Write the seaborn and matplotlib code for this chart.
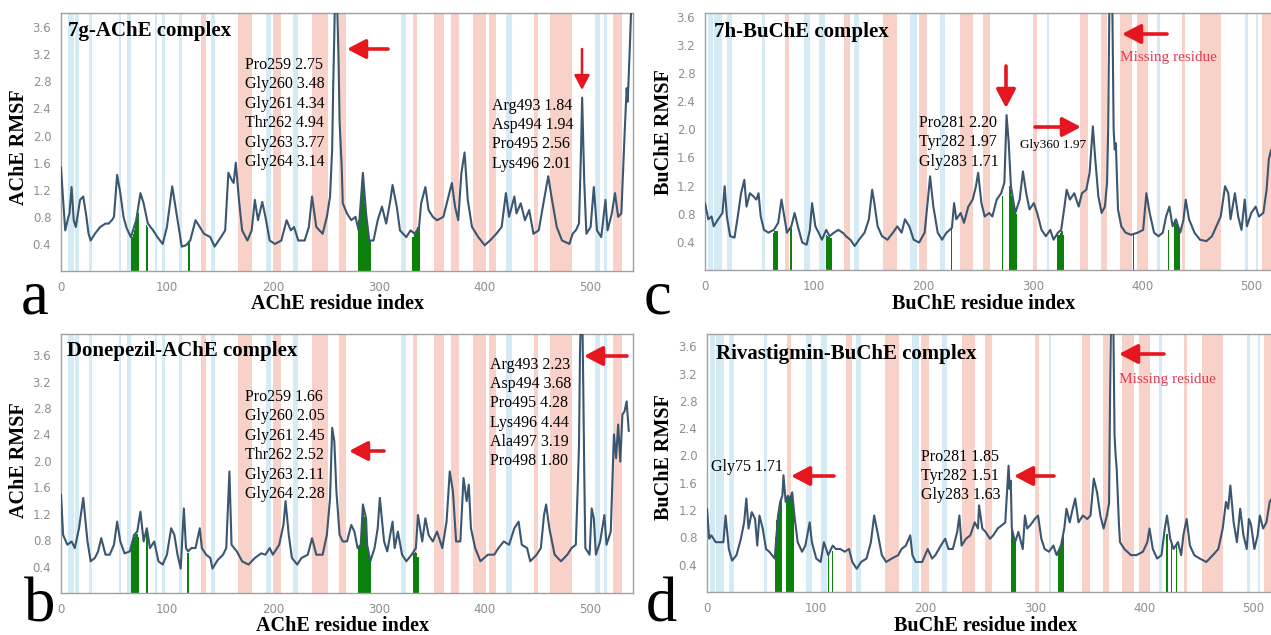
import matplotlib
matplotlib.use("Agg")
import matplotlib.pyplot as plt
import numpy as np
import pandas as pd
import seaborn as sns

W, H = 1271, 635
sns.set_theme(style="white")
plt.rcParams["font.family"] = ["DejaVu Sans"]
SERIF = ["Liberation Serif", "DejaVu Serif"]

# ---------------- data ----------------
# (residue index, RMSF) pairs
rmsf_7g_ache = [(0,1.53),(2,1.05),(4,0.6),(7,0.8),(8,0.85),(10,1.24),(12,0.75),(14,0.65),(16,0.85),(18,1.05),
    (21,1.1),(24,0.8),(26,0.55),(28,0.45),(32,0.55),(37,0.65),(42,0.7),(45,0.7),(48,0.75),(50,0.8),
    (53,1.42),(56,1.15),(59,0.8),(62,0.63),(66,0.5),(71,0.75),(75,1.15),(78,1.0),(82,0.7),(87,0.6),
    (91,0.5),(96,0.4),(100,0.65),(105,1.25),(109,0.85),(112,0.55),(114,0.36),(118,0.38),(122,0.45),(127,0.75),
    (131,0.65),(135,0.55),(141,0.5),(145,0.36),(151,0.5),(155,0.6),(158,1.45),(161,1.35),(163,1.3),(165,1.6),
    (168,1.05),(171,0.6),(176,0.45),(180,0.6),(183,1.05),(186,0.75),(190,1.02),(193,0.8),(197,0.45),(202,0.4),
    (208,0.45),(213,0.75),(217,0.6),(220,0.65),(224,0.45),(230,0.45),(234,0.65),(237,1.1),(241,0.65),(247,0.55),
    (251,0.8),(254,1.1),(256,1.8),(257,2.75),(258,3.48),(259,4.34),(260,4.94),(261,3.77),(262,3.14),(263,2.2),
    (265,1.54),(266,1.0),(270,0.85),(274,0.75),(278,0.8),(281,0.6),(285,1.45),(288,0.85),(291,0.45),(295,0.45),
    (299,0.75),(303,0.95),(307,0.7),(311,1.05),(313,1.27),(317,0.95),(320,0.6),(326,0.5),(330,0.6),(334,0.55),
    (338,0.65),(340,1.0),(344,1.24),(347,0.9),(351,0.8),(355,0.75),(361,0.8),(365,1.05),(369,1.3),(372,0.95),
    (375,0.75),(378,1.45),(381,1.75),(384,1.05),(388,0.65),(394,0.5),(400,0.38),(405,0.45),(411,0.55),(416,0.65),
    (420,1.15),(423,0.8),(428,1.1),(430,0.85),(434,1.0),(438,0.75),(442,0.9),(446,0.55),(451,0.6),(456,1.05),
    (460,1.4),(463,1.1),(468,0.65),(473,0.45),(480,0.4),(483,0.55),(486,0.6),(489,0.7),(490,1.24),(491,1.84),
    (492,2.56),(493,1.94),(494,1.3),(496,0.55),(500,0.65),(503,1.24),(506,0.6),(510,0.5),(514,1.05),(516,0.6),
    (520,0.85),(523,1.15),(526,0.8),(529,0.85),(532,2.0),(534,2.7),(535,2.5),(537,3.3),(539,4.2)]

rmsf_donepezil_ache = [(0,1.49),(2,0.88),(6,0.73),(10,0.78),(13,0.68),(17,0.98),(21,1.44),(25,0.78),(28,0.48),(32,0.53),
    (35,0.63),(38,0.83),(42,0.58),(46,0.58),(50,0.73),(53,1.08),(56,0.78),(60,0.6),(65,0.63),(69,0.88),
    (72,0.93),(75,1.23),(78,0.78),(81,0.98),(84,0.68),(88,0.78),(92,0.48),(96,0.43),(100,0.58),(104,0.98),
    (107,0.88),(110,0.58),(113,0.37),(116,1.28),(118,0.68),(120,0.63),(123,0.68),(127,0.68),(131,0.98),(133,0.68),
    (137,0.58),(141,0.53),(143,0.37),(148,0.5),(153,0.58),(156,0.68),(159,1.84),(161,0.73),(166,0.63),(171,0.48),
    (177,0.43),(183,0.53),(189,0.6),(193,0.58),(197,0.68),(200,0.58),(206,0.73),(210,1.03),(212,1.39),(215,0.88),
    (218,0.53),(223,0.43),(227,0.53),(233,0.58),(237,0.83),(241,0.58),(247,0.58),(251,0.88),(254,1.44),(256,2.5),
    (258,2.3),(260,1.54),(263,0.88),(266,0.78),(270,0.78),(274,1.03),(277,0.93),(280,0.68),(283,0.73),(285,1.34),
    (288,1.13),(289,0.73),(292,0.48),(296,0.68),(299,0.98),(301,1.44),(305,0.78),(308,0.63),(313,1.08),(315,0.68),
    (318,0.93),(322,0.58),(326,0.48),(331,0.58),(335,0.68),(337,1.18),(341,0.78),(344,1.13),(347,0.88),(351,0.78),
    (355,0.93),(360,0.68),(364,1.08),(367,1.84),(370,1.54),(373,0.78),(377,0.78),(380,1.74),(383,1.39),(385,1.64),
    (387,0.98),(391,0.68),(396,0.48),(403,0.58),(409,0.58),(413,0.68),(418,0.78),(423,0.73),(428,0.98),(432,1.08),
    (435,0.73),(440,0.68),(443,0.48),(449,0.58),(453,0.68),(456,1.18),(458,1.34),(461,0.98),(466,0.58),(472,0.48),
    (478,0.58),(482,0.68),(486,0.73),(488,1.69),(489,2.23),(490,3.68),(491,4.28),(492,4.44),(493,3.19),(494,1.8),
    (495,0.68),(499,0.58),(501,1.28),(503,1.13),(505,0.58),(509,0.78),(513,1.18),(515,0.73),(519,0.93),(522,2.4),
    (524,2.04),(526,2.55),(528,1.99),(530,2.7),(532,2.75),(534,2.9),(536,2.45)]

rmsf_7h_buche = [(0,0.95),(3,0.72),(6,0.76),(8,0.62),(12,0.72),(16,0.81),(18,1.19),(20,0.76),(23,0.48),(27,0.46),
    (30,0.76),(33,1.09),(36,1.28),(38,0.9),(41,1.09),(44,1.05),(47,1.0),(49,1.09),(51,0.76),(54,0.57),
    (58,0.53),(63,0.57),(67,0.67),(70,1.0),(73,0.72),(75,0.53),(79,0.62),(82,0.81),(85,0.62),(89,0.39),
    (93,0.36),(96,0.57),(98,0.95),(101,0.62),(104,0.53),(107,0.43),(111,0.57),(114,0.48),(118,0.53),(122,0.57),
    (126,0.53),(129,0.48),(133,0.43),(137,0.34),(141,0.43),(146,0.53),(150,0.72),(153,1.14),(155,0.95),(158,0.62),
    (162,0.48),(167,0.43),(172,0.53),(176,0.62),(180,0.53),(183,0.72),(187,0.62),(191,0.43),(196,0.39),(201,0.53),
    (204,1.0),(206,1.33),(209,0.9),(213,0.53),(217,0.43),(221,0.53),(224,0.57),(226,0.6),(228,0.95),(230,0.72),
    (234,0.81),(237,0.67),(241,0.9),(245,1.0),(248,1.19),(250,1.38),(253,0.95),(256,0.76),(260,0.81),(263,0.76),
    (267,1.0),(271,1.09),(274,1.24),(276,2.2),(278,1.8),(280,1.19),(284,0.81),(288,1.0),(291,1.4),(294,1.09),
    (297,0.86),(301,0.95),(304,0.81),(308,0.57),(312,0.48),(316,0.57),(319,0.43),(323,0.53),(326,0.57),(329,0.9),
    (331,1.14),(334,1.0),(338,1.09),(342,0.9),(345,1.09),(349,1.14),(352,1.38),(355,2.04),(357,1.61),(360,1.05),
    (363,0.81),(366,0.9),(368,1.24),(369,2.0),(370,3.6),(371,4.4),(372,4.6),(373,3.5),(374,2.0),(375,1.71),
    (376,1.8),(378,0.86),(381,0.62),(385,0.53),(390,0.5),(396,0.53),(401,0.57),(404,1.09),(407,0.81),(411,0.53),
    (415,0.48),(419,0.53),(422,0.76),(425,0.9),(428,0.62),(431,0.72),(435,0.53),(438,0.72),(440,1.0),(443,0.72),
    (448,0.53),(453,0.43),(459,0.41),(464,0.48),(468,0.62),(472,0.76),(476,1.19),(479,1.09),(481,0.72),(485,1.09),
    (488,0.76),(491,0.57),(494,1.0),(496,0.62),(500,0.81),(504,0.9),(507,0.76),(511,0.81),(514,1.14),(516,1.57),
    (518,1.7)]

rmsf_rivastigmin_buche = [(0,1.22),(2,0.78),(4,0.83),(8,0.73),(12,0.73),(15,0.73),(17,1.12),(20,0.63),(23,0.46),(27,0.54),
    (31,0.78),(34,1.02),(36,1.37),(38,0.93),(41,1.17),(44,1.07),(46,0.68),(48,1.12),(51,0.93),(54,0.63),
    (57,0.59),(62,0.49),(65,1.12),(67,1.32),(69,1.41),(70,1.71),(72,1.32),(74,1.41),(76,1.37),(78,1.46),
    (80,1.12),(83,0.73),(87,0.59),(90,0.68),(94,1.02),(96,0.73),(100,0.49),(104,0.44),(107,0.73),(111,0.54),
    (115,0.68),(118,0.63),(122,0.63),(126,0.59),(130,0.63),(133,0.44),(137,0.34),(141,0.44),(146,0.49),(150,0.73),
    (153,1.12),(156,0.88),(160,0.54),(164,0.44),(169,0.49),(175,0.54),(178,0.63),(182,0.68),(186,0.83),(188,0.54),
    (191,0.44),(197,0.44),(202,0.63),(206,0.49),(209,0.54),(214,0.68),(218,0.78),(221,0.63),(225,0.63),(229,0.88),
    (231,1.12),(233,0.68),(237,0.78),(241,0.83),(245,1.02),(248,0.93),(249,1.27),(252,0.93),(255,0.88),(259,0.78),
    (262,0.83),(266,0.93),(270,0.98),(273,1.02),(276,1.85),(277,1.51),(278,1.63),(279,0.93),(282,0.73),(285,0.88),
    (289,0.63),(291,1.12),(293,0.93),(296,0.98),(300,1.07),(303,1.12),(306,0.78),(309,0.63),(313,0.59),(317,0.68),
    (320,0.54),(324,0.68),(327,0.93),(329,1.22),(332,1.02),(334,1.17),(337,1.37),(340,1.02),(344,1.12),(348,1.07),
    (351,1.12),(354,1.66),(357,1.46),(360,1.12),(363,0.93),(366,1.12),(368,1.3),(369,3.0),(370,4.2),(371,4.5),
    (372,3.8),(373,2.3),(374,2.0),(375,1.8),(377,1.0),(378,0.73),(382,0.63),(388,0.54),(393,0.54),(399,0.59),
    (403,0.73),(405,0.93),(408,0.63),(412,0.49),(416,0.54),(419,0.93),(421,1.12),(424,0.78),(427,0.63),(431,0.73),
    (434,0.54),(436,0.83),(439,1.07),(442,0.68),(446,0.54),(451,0.49),(457,0.44),(463,0.54),(468,0.63),(472,0.93),
    (475,1.32),(477,1.22),(479,1.56),(482,1.02),(485,0.73),(488,1.22),(491,0.83),(494,0.63),(496,1.07),(498,0.98),
    (501,0.63),(504,0.83),(506,1.12),(509,0.93),(512,1.02),(515,1.32),(518,1.4)]

# ligand-contact residues (green), (residue, height)
contacts_7g = [(67,0.5),(68,0.55),(69,0.6),(70,0.68),(71,0.75),(72,0.8),(73,0.85),(81,0.68),(82,0.65),(120,0.45),(121,0.42),
    (281,0.75),(282,0.7),(283,0.85),(284,1.2),(285,1.45),(286,1.3),(287,1.0),(288,0.85),(289,0.65),(290,0.5),(291,0.45),(292,0.45),
    (332,0.5),(333,0.5),(334,0.55),(335,0.55),(336,0.6),(337,0.65),(338,0.7)]
contacts_donepezil = [(67,0.75),(68,0.8),(69,0.85),(70,0.88),(71,0.9),(72,0.9),(73,0.85),(81,0.98),(82,0.9),(119,0.6),(120,0.6),
    (281,0.7),(282,0.72),(283,0.75),(284,0.9),(285,1.34),(286,1.3),(287,1.15),(288,1.1),(289,0.8),(290,0.6),(291,0.5),(292,0.48),
    (333,0.6),(334,0.6),(335,0.62),(336,0.6),(337,0.55)]
contacts_7h = [(63,0.52),(64,0.55),(65,0.55),(66,0.55),(78,0.62),(79,0.6),(111,0.5),(112,0.48),(113,0.47),(114,0.48),(115,0.46),
    (116,0.45),(226,0.6),(272,1.05),(279,1.19),(280,1.15),(281,1.05),(282,0.95),(283,0.9),(284,0.85),(285,0.8),
    (323,0.5),(324,0.5),(325,0.52),(326,0.55),(327,0.55),(328,0.5),(392,0.5),(424,0.57),
    (430,0.68),(431,0.7),(432,0.65),(433,0.6),(434,0.55)]
contacts_rivastigmin = [(63,0.8),(64,1.05),(65,1.12),(66,1.2),(67,1.3),(68,1.35),(73,1.35),(74,1.4),(75,1.38),(76,1.37),
    (77,1.4),(78,1.45),(79,1.3),(111,0.54),(115,0.6),(279,0.93),(280,0.85),(281,0.8),(282,0.73),
    (322,0.6),(323,0.65),(324,0.68),(325,0.8),(326,0.9),(421,0.85),(425,0.7),(430,0.72)]

# secondary-structure bands (residue ranges)
ache_helix = [(132,137),(167,180),(200,208),(237,252),(262,269),(332,336),(352,362),(368,376),(389,401),
              (404,411),(447,450),(462,482),(521,530)]
ache_strand = [(7,12),(13,17),(26,29),(55,57),(62,66),(89,91),(95,98),(111,114),(142,145),(194,198),
               (219,224),(321,326),(420,426),(504,509),(513,515)]
buche_helix = [(73,77),(127,133),(163,176),(196,203),(233,245),(254,261),(300,304),(343,351),(362,368),
               (380,391),(395,405),(437,439),(453,472),(510,518)]
buche_strand = [(3,7),(8,16),(20,25),(52,55),(91,96),(104,110),(136,141),(188,194),(215,220),(313,315),
                (414,416),(494,497),(504,506)]

titles = ["7g-AChE complex", "Donepezil-AChE complex", "7h-BuChE complex", "Rivastigmin-BuChE complex"]
notes_7g_left = ["Pro259 2.75", "Gly260 3.48", "Gly261 4.34", "Thr262 4.94", "Gly263 3.77", "Gly264 3.14"]
notes_7g_right = ["Arg493 1.84", "Asp494 1.94", "Pro495 2.56", "Lys496 2.01"]
notes_don_left = ["Pro259 1.66", "Gly260 2.05", "Gly261 2.45", "Thr262 2.52", "Gly263 2.11", "Gly264 2.28"]
notes_don_right = ["Arg493 2.23", "Asp494 3.68", "Pro495 4.28", "Lys496 4.44", "Ala497 3.19", "Pro498 1.80"]
notes_7h = ["Pro281 2.20", "Tyr282 1.97", "Gly283 1.71"]
notes_riv = ["Pro281 1.85", "Tyr282 1.51", "Gly283 1.63"]
x_ticks = [0, 100, 200, 300, 400, 500]
y_ticks = [0.4, 0.8, 1.2, 1.6, 2.0, 2.4, 2.8, 3.2, 3.6]
y_tick_labels = ["0.4", "0.8", "1.2", "1.6", "2.0", "2.4", "2.8", "3.2", "3.6"]

# ---------------- styling ----------------
LINE = "#3a5670"
GREEN = "#0b800b"
HELIX = "#f8d2c9"
STRAND = "#d4eaf4"
ARROW = "#e5161d"
MISSING = "#e23a52"
TICK = "#8e8e8e"

fig = plt.figure(figsize=(W / 100, H / 100), dpi=100)


def add_ax(x0, y0, x1, y1):
    return fig.add_axes([x0 / W, 1 - y1 / H, (x1 - x0) / W, (y1 - y0) / H])


def txt(x, y, s, size, weight="normal", color="black", ha="left", va="center", rot=0):
    fig.text(x / W, 1 - y / H, s, fontsize=size, fontweight=weight, color=color,
             ha=ha, va=va, rotation=rot, family=SERIF)


def arrow(tail, head, lw=2.6, ms=14):
    fig.add_artist(matplotlib.patches.FancyArrowPatch(
        (tail[0] / W, 1 - tail[1] / H), (head[0] / W, 1 - head[1] / H),
        transform=fig.transFigure, arrowstyle="-|>,head_width=0.42,head_length=0.8",
        mutation_scale=ms, lw=lw, color=ARROW, shrinkA=0, shrinkB=0))


panels = [
    dict(box=(61, 13, 633, 271), xmax=540, ymax=3.81, pts=rmsf_7g_ache, green=contacts_7g,
         helix=ache_helix, strand=ache_strand),
    dict(box=(61, 334, 633, 593), xmax=540, ymax=3.92, pts=rmsf_donepezil_ache, green=contacts_donepezil,
         helix=ache_helix, strand=ache_strand),
    dict(box=(705, 13, 1295, 270), xmax=540, ymax=3.65, pts=rmsf_7h_buche, green=contacts_7h,
         helix=buche_helix, strand=buche_strand),
    dict(box=(707, 334, 1297, 592), xmax=540, ymax=3.78, pts=rmsf_rivastigmin_buche, green=contacts_rivastigmin,
         helix=buche_helix, strand=buche_strand),
]

for p in panels:
    ax = add_ax(*p["box"])
    for lo, hi in p["helix"]:
        ax.axvspan(lo, hi, color=HELIX, lw=0, zorder=0)
    for lo, hi in p["strand"]:
        ax.axvspan(lo, hi, color=STRAND, lw=0, zorder=0)
    gx = [g[0] for g in p["green"]]
    gh = [g[1] for g in p["green"]]
    ax.bar(gx, gh, width=1.0, color=GREEN, lw=0, zorder=1)
    df = pd.DataFrame(p["pts"], columns=["residue", "rmsf"])
    sns.lineplot(data=df, x="residue", y="rmsf", ax=ax, color=LINE, lw=1.5, zorder=3)
    ax.set_xlim(0, p["xmax"])
    ax.set_ylim(0, p["ymax"])
    ax.set_xticks(x_ticks)
    ax.set_xticklabels([str(t) for t in x_ticks])
    ax.set_yticks(y_ticks)
    ax.set_yticklabels(y_tick_labels)
    ax.set_xlabel("")
    ax.set_ylabel("")
    ax.set_facecolor("white")
    ax.tick_params(axis="both", colors=TICK, labelsize=8.5, length=4, width=0.8, direction="out", pad=3)
    for sp in ax.spines.values():
        sp.set_color("#a0a0a0")
        sp.set_linewidth(1.0)

# titles
txt(68, 31, titles[0], 15, "bold")
txt(67, 351, titles[1], 15, "bold")
txt(714, 32, titles[2], 15, "bold")
txt(716, 354, titles[3], 15, "bold")

# annotations panel a
for i, s in enumerate(notes_7g_left):
    txt(245, 65 + 19.4 * i, s, 11.5)
for i, s in enumerate(notes_7g_right):
    txt(492, 106 + 19.2 * i, s, 11.5)
arrow((388, 49), (347, 49))
arrow((582, 49), (582, 90), lw=1.8, ms=11)

# panel b
for i, s in enumerate(notes_don_left):
    txt(245, 397 + 19.4 * i, s, 11.5)
for i, s in enumerate(notes_don_right):
    txt(490, 365 + 19.2 * i, s, 11.5)
arrow((384, 451), (349, 451))
arrow((627, 356), (584, 356))

# panel c
for i, s in enumerate(notes_7h):
    txt(919, 123 + 19.4 * i, s, 11.5)
txt(1020, 145, "Gly360 1.97", 9.5)
txt(1120, 58, "Missing residue", 11, color=MISSING)
arrow((1006, 66), (1006, 108))
arrow((1035, 127), (1081, 127))
arrow((1167, 34), (1122, 34))

# panel d
txt(711, 467, "Gly75 1.71", 11.5)
for i, s in enumerate(notes_riv):
    txt(921, 457 + 19.2 * i, s, 11.5)
txt(1119, 380, "Missing residue", 11, color=MISSING)
arrow((834, 476), (791, 476))
arrow((1054, 476), (1014, 476))
arrow((1164, 354), (1119, 354))

# axis labels
txt(338, 304, "AChE residue index", 14.5, "bold", ha="center")
txt(984, 304, "BuChE residue index", 14.5, "bold", ha="center")
txt(343, 626, "AChE residue index", 14.5, "bold", ha="center")
txt(986, 626, "BuChE residue index", 14.5, "bold", ha="center")
txt(19, 147, "AChE RMSF", 14.5, "bold", ha="center", rot=90)
txt(19, 460, "AChE RMSF", 14.5, "bold", ha="center", rot=90)
txt(664, 132, "BuChE RMSF", 14.5, "bold", ha="center", rot=90)
txt(664, 457, "BuChE RMSF", 14.5, "bold", ha="center", rot=90)

# panel letters
txt(35, 314, "a", 45, ha="center", va="baseline")
txt(658, 314, "c", 45, ha="center", va="baseline")
txt(40, 635, "b", 45, ha="center", va="bottom")
txt(661, 635, "d", 45, ha="center", va="bottom")

fig.savefig("out.png", dpi=100, facecolor="white")
